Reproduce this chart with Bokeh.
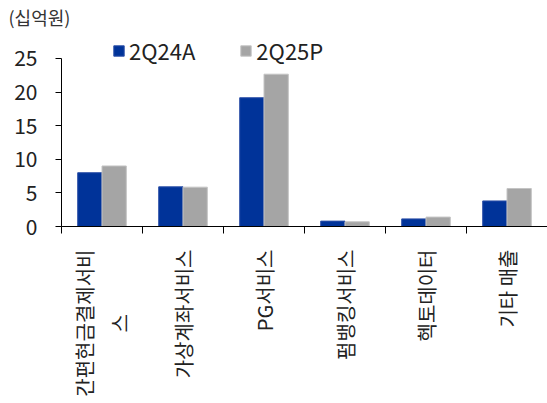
import math
from bokeh.plotting import figure
from bokeh.models import ColumnDataSource, FixedTicker, Legend, LegendItem, Range1d
from bokeh.embed import file_html
from bokeh.resources import INLINE

categories = ["간편현금결제서비\n스\u3000\u3000\u3000 ", "가상계좌서비스", "PG서비스", "펌뱅킹서비스", "헥토데이터", "기타 매출"]
series_names = ["2Q24A", "2Q25P"]
v_2q24a = [8.0, 5.9, 19.15, 0.8, 1.13, 3.8]
v_2q25p = [9.0, 5.85, 22.65, 0.7, 1.4, 5.65]
y_ticks = [0, 5, 10, 15, 20, 25]
unit_label = "(십억원)"

colors = ["#003399", "#A5A5A5"]
outline = ["#2d50a8", "#c4c4c4"]
FONT = "Noto Sans CJK KR"

n = len(categories)
idx = list(range(n))
bar_w = 0.3

p = figure(width=547, height=403, output_backend="svg", toolbar_location=None,
           x_range=Range1d(0, n), y_range=Range1d(0, 29.0),
           min_border_left=61, min_border_right=0, min_border_top=30,
           min_border_bottom=177, title=unit_label)
p.outline_line_color = None
p.xgrid.grid_line_color = None
p.ygrid.grid_line_color = None
p.background_fill_color = "white"

p.title.text_font = FONT
p.title.text_font_size = "18px"
p.title.text_font_style = "normal"
p.title.text_color = "#333333"
p.title.align = "left"
p.title.offset = -53
p.title.standoff = 3

src1 = ColumnDataSource(dict(x=[i + 0.5 - bar_w / 2 for i in idx], top=v_2q24a))
src2 = ColumnDataSource(dict(x=[i + 0.5 + bar_w / 2 for i in idx], top=v_2q25p))
r1 = p.vbar(x="x", top="top", width=bar_w, bottom=0, source=src1,
            fill_color=colors[0], line_color=outline[0], line_width=1)
r2 = p.vbar(x="x", top="top", width=bar_w, bottom=0, source=src2,
            fill_color=colors[1], line_color=outline[1], line_width=1)

# y axis
p.yaxis.ticker = FixedTicker(ticks=y_ticks)
p.yaxis.bounds = (0, 25)
p.yaxis.major_label_text_font = FONT
p.yaxis.major_label_text_font_size = "21px"
p.yaxis.major_label_text_color = "#222222"
p.yaxis.major_tick_out = 6
p.yaxis.major_tick_in = 0
p.yaxis.minor_tick_line_color = None
p.yaxis.major_label_standoff = 18
p.yaxis.axis_line_color = "black"

# x axis: boundary ticks via minor ticks, labels at centers
p.xaxis.ticker = FixedTicker(ticks=[i + 0.5 for i in idx], minor_ticks=list(range(n + 1)))
p.xaxis.major_label_overrides = {i + 0.5: categories[i] for i in idx}
p.xaxis.major_tick_line_color = None
p.xaxis.major_tick_out = 0
p.xaxis.major_tick_in = 0
p.xaxis.minor_tick_out = 7
p.xaxis.minor_tick_in = 0
p.xaxis.minor_tick_line_color = "black"
p.xaxis.major_label_orientation = math.pi / 2
p.xaxis.major_label_standoff = 16
p.xaxis.major_label_text_font = FONT
p.xaxis.major_label_text_font_size = "20px"
p.xaxis.major_label_text_color = "#222222"
p.xaxis.axis_line_color = "black"

legend = Legend(items=[LegendItem(label=series_names[0], renderers=[r1]),
                       LegendItem(label=series_names[1], renderers=[r2])],
                orientation="horizontal", location=(51, 160),
                padding=0, margin=0, spacing=44, glyph_width=13, glyph_height=13,
                label_standoff=4, label_text_font=FONT, label_text_font_size="22px",
                label_text_color="#222222", border_line_color=None,
                background_fill_alpha=0)
p.add_layout(legend, "center")

open("out.html", "w").write(file_html(p, INLINE))
